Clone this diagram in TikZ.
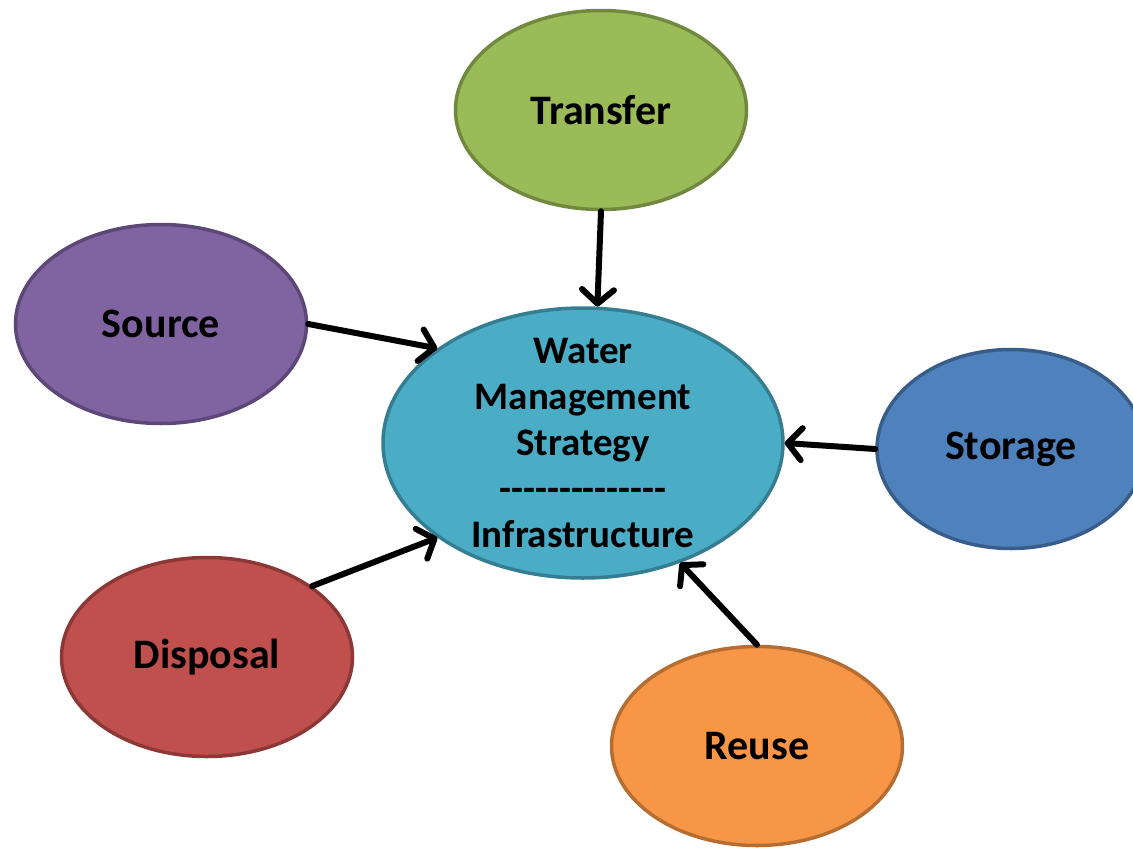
\documentclass[tikz,border=0pt]{standalone}
\usepackage{fontspec}
\setmainfont{Carlito}
\usetikzlibrary{shapes.geometric,arrows.meta}
\definecolor{trfill}{HTML}{9BBB59}\definecolor{trline}{HTML}{71893F}
\definecolor{sofill}{HTML}{8064A2}\definecolor{soline}{HTML}{5C4776}
\definecolor{cefill}{HTML}{4BACC6}\definecolor{celine}{HTML}{357D91}
\definecolor{stfill}{HTML}{4F81BD}\definecolor{stline}{HTML}{385D8A}
\definecolor{difill}{HTML}{C0504D}\definecolor{diline}{HTML}{8C3836}
\definecolor{refill}{HTML}{F79646}\definecolor{reline}{HTML}{B66D31}
\begin{document}
\begin{tikzpicture}[x=1pt,y=-1pt,
  bub/.style={ellipse, draw, line width=3.5pt, inner sep=0pt, align=center, text=black,
    font=\fontsize{42}{46}\selectfont\bfseries, minimum width=291pt, minimum height=199pt},
  conn/.style={line width=6pt, line cap=round,
    -{Straight Barb[length=14pt,width=32pt,line cap=round,line join=round]}}]
\useasboundingbox (0,0) rectangle (1133,849);
\node[bub, fill=cefill, draw=celine, minimum width=400pt, minimum height=270pt,
  inner ysep=-24pt, font=\fontsize{39}{46}\selectfont\bfseries] (center) at (583,443)
  {Water\\Management\\Strategy\\-{}-{}-{}-{}-{}-{}-{}-{}-{}-{}-{}-{}-{}-\\Infrastructure};
\node[bub, fill=trfill, draw=trline] (transfer) at (601,110) {Transfer};
\node[bub, fill=sofill, draw=soline] (source) at (161,324) {Source};
\node[bub, fill=stfill, draw=stline, minimum width=268pt] (storage) at (1011,449) {Storage};
\node[bub, fill=difill, draw=diline] (disposal) at (207,657) {Disposal};
\node[bub, fill=refill, draw=reline] (reuse) at (757,746) {Reuse};
\draw[conn] (transfer.270) -- (center.84);
\draw[conn] (source.0) -- (center.147);
\draw[conn] (storage.180) -- (center.0);
\draw[conn] (disposal.34) -- (center.213);
\draw[conn] (reuse.90) -- (center.309);
\end{tikzpicture}
\end{document}
